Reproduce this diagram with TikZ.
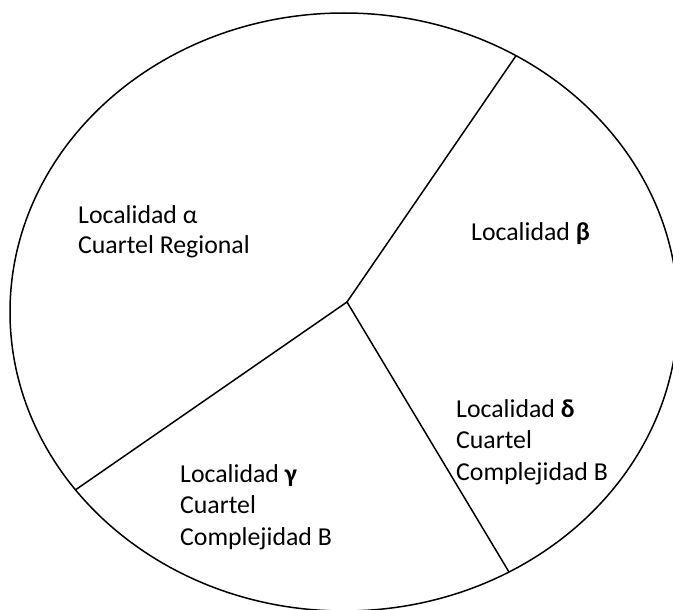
\documentclass[tikz,border=0pt]{standalone}
\usepackage{fontspec}
\setmainfont{Carlito}
\begin{document}
\begin{tikzpicture}[x=1pt,y=-1pt,
  edge/.style={line width=1.5pt,line cap=round,line join=round},
  lbl/.style={anchor=north west,inner sep=0pt,align=left,font=\fontsize{25.8}{31.5}\selectfont}]
\useasboundingbox (0,0) rectangle (673,610);
\coordinate (O) at (344,312);
\draw[edge] (O) ellipse [x radius=334pt, y radius=299pt];
\coordinate (C) at (347,302);
\coordinate (A) at ([shift={(59.0:334pt and 299pt)}]O);
\coordinate (B) at ([shift={(-60.4:334pt and 299pt)}]O);
\coordinate (G) at ([shift={(216.5:334pt and 299pt)}]O);
\draw[edge] (C) -- (A);
\draw[edge] (C) -- (B);
\draw[edge] (C) -- (G);
\node[lbl,font=\fontsize{25.8}{30}\selectfont] (la) at (78,205) {Localidad α\\Cuartel Regional};
\node[lbl] (lb) at (471,222) {Localidad \textbf{β}};
\node[lbl] (ld) at (456,399) {Localidad \textbf{δ}\\Cuartel\\Complejidad B};
\node[lbl] (lg) at (180,464) {Localidad \textbf{γ}\\Cuartel\\Complejidad B};
\end{tikzpicture}
\end{document}
